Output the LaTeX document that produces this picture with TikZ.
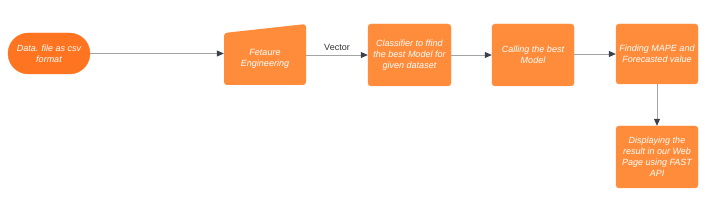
\documentclass[tikz,border=0pt]{standalone}
\usepackage{fontspec}
\setmainfont{Liberation Sans}
\usetikzlibrary{arrows.meta}
\definecolor{darkor}{HTML}{FF7420}
\definecolor{lightor}{HTML}{FF8C3A}
\definecolor{linegray}{HTML}{A3A3A3}
\definecolor{tipgray}{HTML}{3A414A}
\tikzset{
  box/.style={fill=lightor, draw=lightor!90!white, rounded corners=3pt, text=white,
    font=\fontsize{9}{11}\selectfont\itshape, align=center, inner sep=0pt},
  conn/.style={draw=linegray, line width=0.8pt, -{Triangle[length=7pt,width=6pt,fill=tipgray,color=tipgray]}},
}
\begin{document}
\begin{tikzpicture}[x=1pt,y=-1pt]
\useasboundingbox (0,0) rectangle (712,208);
% start stadium
\node[box, fill=darkor, draw=darkor, rounded corners=20.5pt, minimum width=82pt, minimum height=41pt] (data) at (49,53.5) {Data. file as csv\\format};
% manual input shape
\fill[lightor, rounded corners=3pt] (224,33) -- (306,24) -- (306,85) -- (224,85) -- cycle;
\node[box, fill=none, draw=none, minimum width=82pt, minimum height=52pt] (fe) at (265,59) {Fetaure\\Engineering};
\node[box, minimum width=83pt, minimum height=62pt] (cls) at (409.5,55) {Classifier to ffind\\the best Model for\\given dataset};
\node[box, minimum width=82pt, minimum height=62pt] (call) at (533,55) {Calling the best\\Model};
\node[box, minimum width=82pt, minimum height=60pt] (mape) at (657,54) {Finding MAPE and\\Forecasted value};
\node[box, minimum width=82pt, minimum height=62pt] (disp) at (657,157) {Displaying the\\result in our Web\\Page using FAST\\API};
\draw[conn] (data.east) -- (data.east -| fe.west);
\draw[conn] (fe.east |- cls.west) -- node[above, font=\fontsize{9}{11}\selectfont, text=black!80, pos=0.5, yshift=1pt] (vec) {Vector} (cls.west);
\draw[conn] (cls.east) -- (call.west);
\draw[conn] (call.east |- mape.west) -- (mape.west);
\draw[conn] (mape.south) -- (disp.north);
\end{tikzpicture}
\end{document}
